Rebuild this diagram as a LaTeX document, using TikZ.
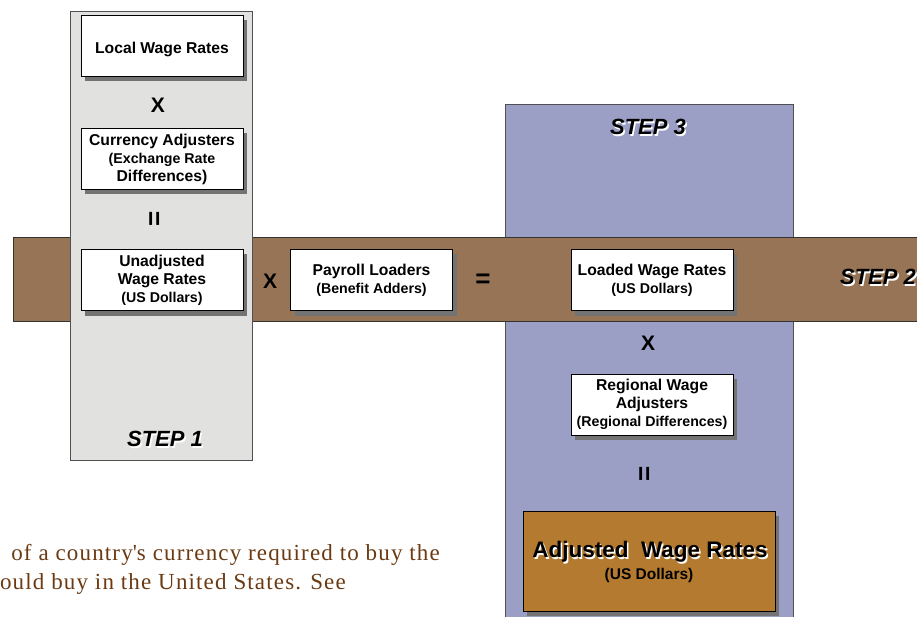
\documentclass[tikz,border=0pt]{standalone}
\usepackage{fontspec}
\setmainfont{Liberation Serif}
\setsansfont{Liberation Sans}
\newfontfamily\notefont[LetterSpace=5]{Liberation Serif}
\usetikzlibrary{shadows}

\definecolor{panelgray}{HTML}{E1E1DF}
\definecolor{panelblue}{HTML}{9B9FC5}
\definecolor{bandbrown}{HTML}{977455}
\definecolor{resultbrown}{HTML}{B47B30}
\definecolor{notebrown}{HTML}{6B3A12}
\definecolor{edgegray}{HTML}{505050}

\newcommand{\subsize}{\fontsize{14.2}{18}\selectfont}

\tikzset{
  ratebox/.style={draw=black, fill=white, line width=0.9pt, align=center,
    inner sep=1pt, minimum width=162pt, minimum height=61pt,
    drop shadow={shadow xshift=4pt, shadow yshift=-5pt, fill=black!55, opacity=1},
    font=\sffamily\bfseries\fontsize{15.7}{18}\selectfont},
  resultbox/.style={draw=black, fill=resultbrown, line width=0.9pt,
    minimum width=252pt, minimum height=100pt,
    drop shadow={shadow xshift=4pt, shadow yshift=-5pt, fill=black!55, opacity=1}},
  opsign/.style={font=\sffamily\bfseries\fontsize{21}{21}\selectfont},
  eqsign/.style={font=\sffamily\bfseries\fontsize{26}{26}\selectfont},
  steptext/.style={font=\sffamily\bfseries\itshape\fontsize{22}{22}\selectfont},
  bigtext/.style={font=\sffamily\bfseries\fontsize{22.5}{22}\selectfont},
  notetext/.style={notebrown, font=\notefont\fontsize{23}{28}\selectfont, inner sep=0pt},
}

\begin{document}
\begin{tikzpicture}[x=1pt,y=-1pt]
\useasboundingbox (0,0) rectangle (917,617);
\clip (0,0) rectangle (917,617);

% The note text behind the diagram
\node[notetext, anchor=east] (noteone) at (440,555) {of a country\textquotesingle s currency required to buy the};
\node[notetext, anchor=east] (notetwo) at (346,584) {ould buy in the United States. See};

% The panels
\draw[edgegray, fill=panelblue] (505,104) rectangle (793,640);
\draw[black!80, fill=bandbrown] (13,237) rectangle (940,321);
\draw[edgegray, fill=panelgray] (70,11) rectangle (252,460);

% The step labels
\node[steptext, white] (steponeshade) at (166.5,440.5) {STEP 1};
\node[steptext] (stepone) at (165,439) {STEP 1};
\node[steptext, white] (steptwoshade) at (879.5,278.5) {STEP 2};
\node[steptext] (steptwo) at (878,277) {STEP 2};
\node[steptext, white] (stepthreeshade) at (649.5,128.5) {STEP 3};
\node[steptext] (stepthree) at (648,127) {STEP 3};

% Step 1
\node[ratebox, text height=20pt] (local) at (162,45.5) {Local Wage Rates};
\node[opsign] (timesone) at (158,105) {X};
\node[ratebox] (currency) at (162,159) {Currency Adjusters\\\subsize (Exchange Rate\\Differences)};
\node[eqsign, rotate=90] (equalsone) at (156,219) {=};
\node[ratebox] (unadjusted) at (162,280) {Unadjusted\\Wage Rates\\\subsize (US Dollars)};

% Step 2
\node[opsign] (timestwo) at (270,281) {X};
\node[ratebox] (payroll) at (371.5,280) {Payroll Loaders\\\subsize (Benefit Adders)};
\node[eqsign] (equalstwo) at (483,281) {=};
\node[ratebox] (loaded) at (652,280) {Loaded Wage Rates\\\subsize (US Dollars)};

% Step 3
\node[opsign] (timesthree) at (648,343) {X};
\node[ratebox] (regional) at (652,404.5) {Regional Wage\\Adjusters\\\subsize (Regional Differences)};
\node[eqsign, rotate=90] (equalsthree) at (646,474) {=};
\node[resultbox] (adjusted) at (649,561) {};
\node[bigtext, white] (adjustedshade) at (651.5,553.5) {Adjusted\ \ Wage Rates};
\node[bigtext] (adjustedtitle) at (650,552) {Adjusted\ \ Wage Rates};
\node[font=\sffamily\bfseries\fontsize{15.5}{18}\selectfont] (adjustedunit) at (649,575) {(US Dollars)};

\end{tikzpicture}
\end{document}
